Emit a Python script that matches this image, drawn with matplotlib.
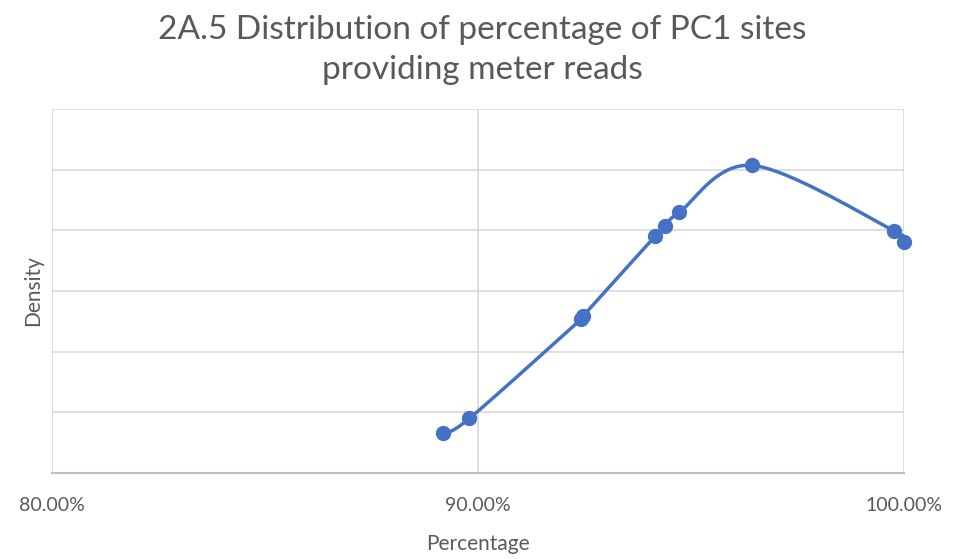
import numpy as np
import matplotlib.pyplot as plt

# datos
pct = [89.19, 89.80, 92.42, 92.47, 94.16, 94.39, 94.73, 96.44, 99.77, 100.0]
density = [0.664, 0.901, 2.537, 2.59, 3.905, 4.069, 4.30, 5.07, 3.99, 3.81]
xticks = [80, 90, 100]
xtick_labels = ['80.00%', '90.00%', '100.00%']

plt.rcParams['font.family'] = ['Lato', 'DejaVu Sans']
gris = '#595959'
azul = '#4472C4'


def suavizar(x, y, n=30):
    # curva tipo Catmull-Rom (como la linea suavizada de Excel)
    x = np.asarray(x, float); y = np.asarray(y, float)
    px = np.concatenate([[x[0]], x, [x[-1]]])
    py = np.concatenate([[y[0]], y, [y[-1]]])
    xs, ys = [], []
    for i in range(1, len(px) - 2):
        p0, p1, p2, p3 = px[i-1], px[i], px[i+1], px[i+2]
        q0, q1, q2, q3 = py[i-1], py[i], py[i+1], py[i+2]
        c1x = p1 + (p2 - p0) / 6; c2x = p2 - (p3 - p1) / 6
        c1y = q1 + (q2 - q0) / 6; c2y = q2 - (q3 - q1) / 6
        t = np.linspace(0, 1, n)
        b0 = (1-t)**3; b1 = 3*(1-t)**2*t; b2 = 3*(1-t)*t**2; b3 = t**3
        xs.append(b0*p1 + b1*c1x + b2*c2x + b3*p2)
        ys.append(b0*q1 + b1*c1y + b2*c2y + b3*q2)
    return np.concatenate(xs), np.concatenate(ys)


fig = plt.figure(figsize=(9.65, 5.59), dpi=100)
ax = fig.add_axes([52/965, 86/559, 852/965, 364/559])

sx, sy = suavizar(pct, density)
ax.plot(sx, sy, color=azul, lw=2.5, solid_capstyle='round', zorder=3, clip_on=False)
ax.plot(pct, density, 'o', color=azul, ms=10, zorder=4, clip_on=False)

ax.set_xlim(80, 100)
ax.set_ylim(0, 6)
ax.set_xticks(xticks)
ax.set_xticklabels(xtick_labels)
ax.set_yticks(range(0, 7))
ax.set_yticklabels([])
ax.grid(True, color='#D9D9D9', lw=1.2)
ax.set_axisbelow(True)
for s in ['top', 'right', 'left']:
    ax.spines[s].set_visible(False)
ax.spines['bottom'].set_color('#BFBFBF')
ax.spines['bottom'].set_linewidth(1.5)
ax.tick_params(length=0, labelsize=14, labelcolor=gris, pad=17)

fig.text(478/965, 1 - 544/559, 'Percentage', ha='center', va='center',
         fontsize=15, color=gris)
fig.text(33/965, 1 - 291/559, 'Density', rotation=90, ha='center', va='center',
         fontsize=15, color=gris)
fig.text(0.5, 1 - 50/559, '2A.5 Distribution of percentage of PC1 sites\nproviding meter reads',
         ha='center', va='center', fontsize=24, color=gris, linespacing=1.42)

fig.savefig('out.png', dpi=100)
